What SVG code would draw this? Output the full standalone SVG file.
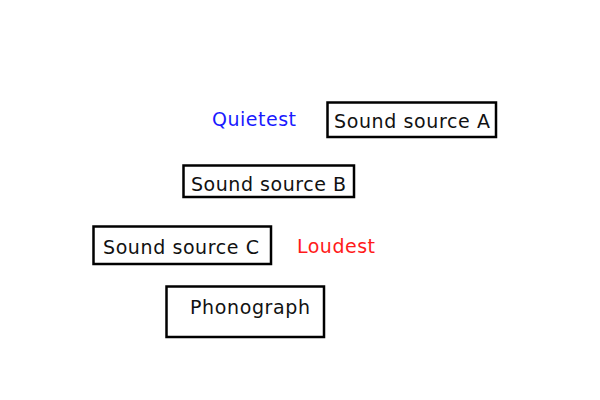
<svg xmlns="http://www.w3.org/2000/svg" width="600" height="400" viewBox="0 0 600 400">
<style>
.b{fill:none;stroke:#000;stroke-width:2.5}
text{font-family:"DejaVu Sans",sans-serif;font-size:19px;fill:#111}
</style>
<rect width="600" height="400" fill="#fff"/>
<g id="connectors"></g>
<g id="quietest"><text x="212" y="126" textLength="84" style="fill:#1a1aff">Quietest</text></g>
<g id="loudest"><text x="297" y="253" textLength="78" style="fill:#ff1a1a">Loudest</text></g>
<g id="a"><rect class="b" x="327.5" y="102.5" width="168.5" height="34.5"/><text x="334" y="128" textLength="156">Sound source A</text></g>
<g id="b"><rect class="b" x="183.5" y="165.5" width="170.5" height="31.5"/><text x="191" y="191" textLength="155">Sound source B</text></g>
<g id="c"><rect class="b" x="93.5" y="226.5" width="177.5" height="37.5"/><text x="103" y="254" textLength="156">Sound source C</text></g>
<g id="phonograph"><rect class="b" x="166.5" y="286.5" width="157.5" height="50.5"/><text x="190" y="314" textLength="120">Phonograph</text></g>
</svg>
